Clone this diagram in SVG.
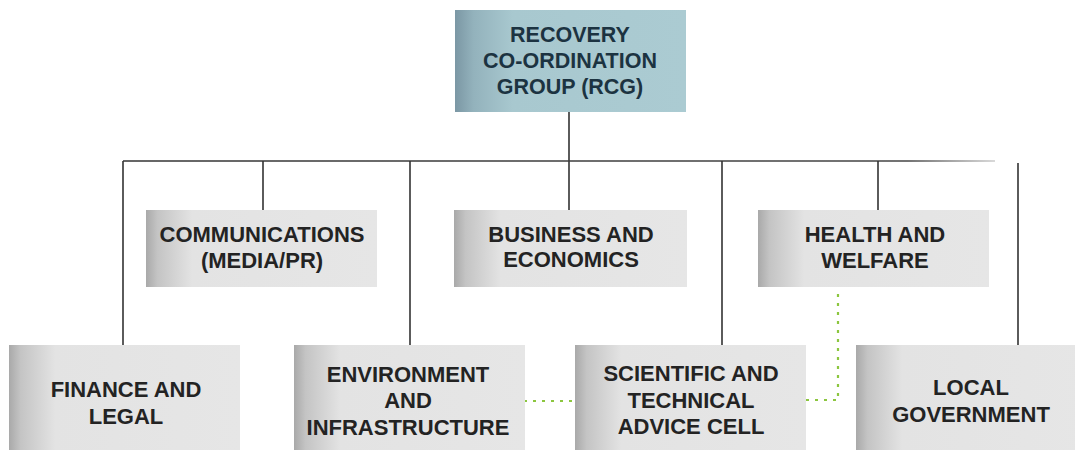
<svg xmlns="http://www.w3.org/2000/svg" width="1075" height="450" viewBox="0 0 1075 450">
<defs>
<linearGradient id="gray" x1="0" y1="0" x2="1" y2="0" gradientUnits="objectBoundingBox">
<stop offset="0" stop-color="#a9a9a9"/>
<stop offset="0.05" stop-color="#c4c4c4"/>
<stop offset="0.2" stop-color="#e3e3e3"/>
<stop offset="1" stop-color="#e6e6e6"/>
</linearGradient>
<linearGradient id="blue" x1="0" y1="0" x2="1" y2="0">
<stop offset="0" stop-color="#7b97a4"/>
<stop offset="0.08" stop-color="#93b2bc"/>
<stop offset="0.25" stop-color="#a8c8cf"/>
<stop offset="1" stop-color="#abcbd2"/>
</linearGradient>
<linearGradient id="fade" x1="123" y1="0" x2="995" y2="0" gradientUnits="userSpaceOnUse">
<stop offset="0" stop-color="#333"/>
<stop offset="0.9" stop-color="#444"/>
<stop offset="1" stop-color="#ccc"/>
</linearGradient>
<style>
.box{fill:url(#gray)}
.t{font-family:"Liberation Sans",Arial,sans-serif;font-weight:bold;font-size:22px;fill:#232323;text-anchor:middle}
.tt{font-family:"Liberation Sans",Arial,sans-serif;font-weight:bold;font-size:21.5px;fill:#1c3341;text-anchor:middle}
.ln{stroke:#333;stroke-width:1.6;fill:none}
.dot{stroke:#8cc63f;stroke-width:2.2;stroke-dasharray:3 6;fill:none}
</style>
</defs>
<g id="connectors">
<line class="ln" x1="569" y1="112" x2="569" y2="211"/>
<path d="M123 161 H995" stroke="url(#fade)" stroke-width="1.6" fill="none"/>
<line class="ln" x1="123" y1="161" x2="123" y2="346"/>
<line class="ln" x1="263" y1="161" x2="263" y2="211"/>
<line class="ln" x1="410" y1="161" x2="410" y2="346"/>
<line class="ln" x1="722" y1="161" x2="722" y2="346"/>
<line class="ln" x1="878" y1="161" x2="878" y2="211"/>
<line class="ln" x1="1018" y1="163" x2="1018" y2="346"/>
<path class="dot" d="M524 401 H575"/>
<path class="dot" d="M806 400 H838 V288"/>
</g>
<g id="rcg">
<rect x="455" y="10" width="231" height="102" fill="url(#blue)"/>
<text class="tt" x="570" y="42">RECOVERY</text>
<text class="tt" x="570" y="68">CO-ORDINATION</text>
<text class="tt" x="570" y="94">GROUP (RCG)</text>
</g>
<g id="communications">
<rect class="box" x="146" y="210" width="231" height="77"/>
<text class="t" x="262" y="242">COMMUNICATIONS</text>
<text class="t" x="262" y="268">(MEDIA/PR)</text>
</g>
<g id="business">
<rect class="box" x="454" y="210" width="233" height="77"/>
<text class="t" x="571" y="242">BUSINESS AND</text>
<text class="t" x="571" y="267">ECONOMICS</text>
</g>
<g id="health">
<rect class="box" x="758" y="210" width="231" height="77"/>
<text class="t" x="875" y="242">HEALTH AND</text>
<text class="t" x="875" y="268">WELFARE</text>
</g>
<g id="finance">
<rect class="box" x="9" y="345" width="231" height="110"/>
<text class="t" x="126" y="397">FINANCE AND</text>
<text class="t" x="126" y="424">LEGAL</text>
</g>
<g id="environment">
<rect class="box" x="294" y="345" width="231" height="110"/>
<text class="t" x="408" y="382">ENVIRONMENT</text>
<text class="t" x="408" y="408">AND</text>
<text class="t" x="408" y="435">INFRASTRUCTURE</text>
</g>
<g id="scientific">
<rect class="box" x="575" y="345" width="231" height="110"/>
<text class="t" x="691" y="381">SCIENTIFIC AND</text>
<text class="t" x="691" y="408">TECHNICAL</text>
<text class="t" x="691" y="434">ADVICE CELL</text>
</g>
<g id="local">
<rect class="box" x="856" y="345" width="231" height="110"/>
<text class="t" x="971" y="395">LOCAL</text>
<text class="t" x="971" y="422">GOVERNMENT</text>
</g>
</svg>
